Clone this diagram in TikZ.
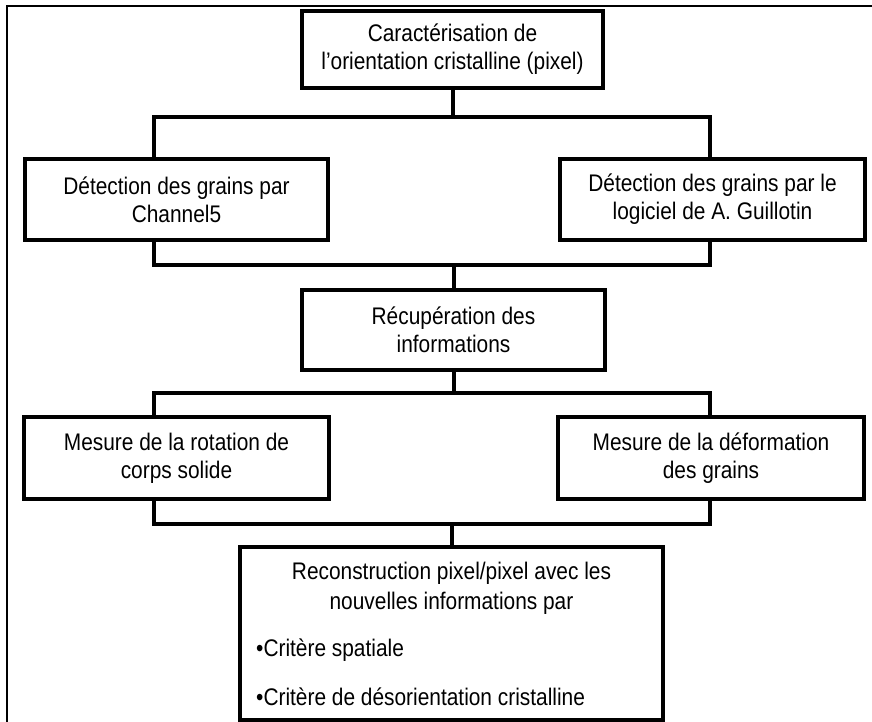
\documentclass[tikz,border=0pt]{standalone}
\usepackage{fontspec}
\setmainfont[FakeStretch=0.87]{Liberation Sans}
\tikzset{
  bloc/.style={draw, line width=4pt, inner sep=0pt, align=center},
  lien/.style={line width=4pt}
}
\begin{document}
\begin{tikzpicture}[x=1pt, y=-1pt, font=\fontsize{24}{28}\selectfont, line join=miter]
			\useasboundingbox (0,0) rectangle (872,722);
			%%%%%%%%%%%%%%%%%%%%%%%%%%%%%%%%%
			\draw[line width=2pt] (7,722) -- (7,6) -- (872,6);
			%%%%%%%%%%%%%%%%%%%%%%%%%%%%%%%%%
			\node[bloc, minimum width=301pt, minimum height=77pt] (carac) at (452.5,49.5) {Caractérisation de\\l’orientation cristalline (pixel)};
			\node[bloc, minimum width=303pt, minimum height=81pt] (chan) at (176.5,199.5) {Détection des grains par\\Channel5};
			\node[bloc, minimum width=305pt, minimum height=81pt] (guil) at (712.5,199.5) {Détection des grains par le\\logiciel de A. Guillotin};
			\node[bloc, minimum width=303pt, minimum height=80pt] (recup) at (453.5,330) {Récupération des\\informations};
			\node[bloc, minimum width=305pt, minimum height=82pt] (rota) at (176.5,458) {Mesure de la rotation de\\corps solide};
			\node[bloc, minimum width=306pt, minimum height=82pt] (defo) at (711,458) {Mesure de la déformation\\des grains};
			\node[bloc, minimum width=423pt, minimum height=173pt] (recon) at (451.5,633.5) {};
			\node[align=center, font=\fontsize{24}{30}\selectfont] (recontxt) at (451.5,588) {Reconstruction pixel/pixel avec les\\nouvelles informations par};
			\node[anchor=west, inner sep=0pt] (crit1) at (256,650) {•Critère spatiale};
			\node[anchor=west, inner sep=0pt] (crit2) at (256,697) {•Critère de désorientation cristalline};
			%%%%%%%%%%%%%%%%%%%%%%%%%%%%%%%%%
			\coordinate (g1) at (154,117); \coordinate (d1) at (710,117);
			\coordinate (g2) at (154,265); \coordinate (d2) at (710,265);
			\coordinate (g3) at (154,393); \coordinate (d3) at (710,393);
			\coordinate (g4) at (154,524); \coordinate (d4) at (710,524);
			%%%%%%%%%%%%%%%%%%%%%%%%%%%%%%%%%
			\draw[lien] (carac.south) -- (carac.south |- g1);
			\draw[lien] (chan.north -| g1) -- (g1) -- (d1) -- (guil.north -| d1);
			\draw[lien] (chan.south -| g2) -- (g2) -- (d2) -- (guil.south -| d2);
			\draw[lien] (recup.north) -- (recup.north |- g2);
			\draw[lien] (recup.south) -- (recup.south |- g3);
			\draw[lien] (rota.north -| g3) -- (g3) -- (d3) -- (defo.north -| d3);
			\draw[lien] (rota.south -| g4) -- (g4) -- (d4) -- (defo.south -| d4);
			\draw[lien] (recon.north) -- (recon.north |- g4);
			%%%%%%%%%%%%%%%%%%%%%%%%%%%%%%%%%
		\end{tikzpicture}
\end{document}
